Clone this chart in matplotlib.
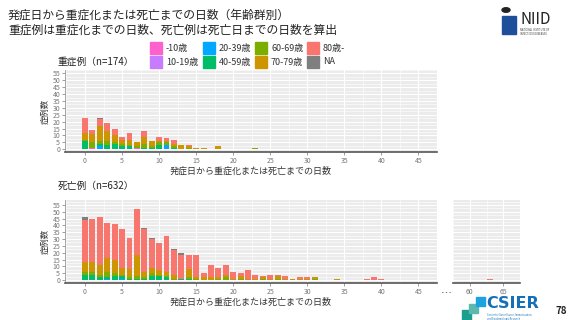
import numpy as np
import matplotlib.pyplot as plt
from matplotlib.patches import Rectangle

plt.rcParams['font.family'] = ['Noto Sans CJK JP', 'DejaVu Sans']

groups = ["-10歳", "10-19歳", "20-39歳", "40-59歳", "60-69歳", "70-79歳", "80歳-", "NA"]
colors = ["#FF61CC", "#C77CFF", "#00A9FF", "#00BE67", "#7CAE00", "#CD9600", "#F8766D", "#7F7F7F"]

# 重症例 (n=174)
days_s = [0, 1, 2, 3, 4, 5, 6, 7, 8, 9, 10, 11, 12, 13, 14, 15, 16, 18, 23]
s_u10 = [0, 1, 0, 0, 0, 0, 0, 1, 0, 0, 0, 0, 0, 0, 0, 0, 0, 0, 0]
s_10 = [0, 0, 0, 0, 0, 0, 0, 0, 0, 0, 0, 0, 0, 0, 0, 0, 0, 0, 0]
s_20 = [0, 0, 2, 0, 0, 0, 0, 0, 0, 0, 0, 3, 0, 0, 0, 0, 0, 0, 0]
s_40 = [6, 0, 2, 3, 4, 2, 2, 0, 1, 1, 3, 0, 1, 0, 0, 0, 0, 0, 0]
s_60 = [1, 4, 2, 3, 1, 2, 1, 1, 3, 1, 2, 2, 1, 0, 1, 0, 0, 0, 1]
s_70 = [5, 6, 11, 7, 5, 3, 4, 3, 5, 4, 1, 1, 2, 3, 1, 1, 1, 2, 0]
s_80 = [11, 3, 5, 6, 5, 2, 5, 0, 4, 0, 3, 2, 3, 0, 1, 0, 0, 0, 0]
s_na = [0, 0, 1, 0, 0, 0, 0, 0, 0, 0, 0, 0, 0, 0, 0, 0, 0, 0, 0]

# 死亡例 (n=632)
days_d = list(range(0, 32)) + [34, 38, 39, 40, 63]
d_u10 = [0] * 37
d_10 = [0] * 37
d_20 = [0, 0, 0, 1, 0, 1] + [0] * 31
d_40 = [4, 4, 2, 1, 3, 2, 1, 1, 1, 3, 3, 2, 0, 1, 1, 0] + [0] * 21
d_60 = [2, 2, 2, 4, 2, 1, 1, 2, 1, 2, 1, 1, 1, 0, 1, 1,
        0, 0, 1, 2, 0, 1, 0, 0, 1, 0, 1, 0, 0, 0, 0, 1, 0, 0, 0, 0, 0]
d_70 = [7, 7, 7, 10, 10, 5, 6, 15, 4, 4, 3, 3, 3, 0, 6, 1,
        2, 2, 1, 2, 1, 2, 1, 1, 1, 1, 2, 1, 1, 1, 1, 1, 1, 0, 0, 0, 0]
d_80 = [31, 32, 35, 26, 26, 28, 23, 34, 31, 21, 20, 26, 18, 17, 10, 16,
        3, 9, 7, 7, 5, 2, 6, 3, 1, 3, 1, 2, 0, 1, 1, 0, 0, 1, 2, 1, 1]
d_na = [2, 0, 0, 0, 0, 0, 0, 0, 1, 1, 0, 0, 1, 2] + [0] * 23

W, H = 569, 320
fig = plt.figure(figsize=(W / 100, H / 100), dpi=100)


def px_axes(x0, y0, x1, y1):
    return fig.add_axes([x0 / W, 1 - y1 / H, (x1 - x0) / W, (y1 - y0) / H])


def draw_panel(ax, days, series, xlim, ylim, xticks, yticks=True):
    ax.set_facecolor("#EBEBEB")
    bottom = np.zeros(len(days))
    for vals, c in zip(series, colors):
        vals = np.array(vals, dtype=float)
        ax.bar(days, vals, bottom=bottom, width=0.8, color=c, linewidth=0, zorder=3)
        bottom += vals
    ax.set_xlim(*xlim)
    ax.set_ylim(*ylim)
    ax.set_xticks(xticks)
    ax.set_xticks(np.arange(xticks[0] - 2.5, xticks[-1] + 3, 5), minor=True)
    ax.set_yticks(np.arange(0, 56, 5))
    ax.set_yticks(np.arange(2.5, 58, 5), minor=True)
    ax.grid(True, which="major", color="white", lw=0.8, zorder=0)
    ax.grid(True, which="minor", color="white", lw=0.4, zorder=0)
    for s in ["top", "right"]:
        ax.spines[s].set_visible(False)
    ax.spines["bottom"].set_color("#555555")
    ax.spines["bottom"].set_linewidth(1.2)
    ax.spines["left"].set_color("#999999")
    ax.spines["left"].set_linewidth(0.6)
    ax.tick_params(axis="both", which="major", labelsize=5, colors="#777777",
                   length=2, width=0.5, pad=1.5)
    ax.tick_params(axis="both", which="minor", length=0)
    if not yticks:
        ax.tick_params(axis="y", labelleft=False, length=0)
        ax.spines["left"].set_visible(False)


series_s = [s_u10, s_10, s_20, s_40, s_60, s_70, s_80, s_na]
series_d = [d_u10, d_10, d_20, d_40, d_60, d_70, d_80, d_na]

# top panel
ax1 = px_axes(65, 70, 437, 152)
draw_panel(ax1, days_s, series_s, (-2.7, 47.3), (-2, 57.5), np.arange(0, 46, 5))
ax1.set_ylabel("症例数", fontsize=6, color="#333333", labelpad=2)
ax1.set_xlabel("発症日から重症化または死亡までの日数", fontsize=6.5, color="#333333", labelpad=1)

# bottom main panel
d_main = [i for i, d in enumerate(days_d) if d < 50]
d_tail = [i for i, d in enumerate(days_d) if d >= 50]
ax2 = px_axes(65, 200, 437, 283)
draw_panel(ax2, [days_d[i] for i in d_main], [[s[i] for i in d_main] for s in series_d],
           (-2.7, 47.3), (-2.2, 58.6), np.arange(0, 46, 5))
ax2.set_ylabel("症例数", fontsize=6, color="#333333", labelpad=2)
ax2.set_xlabel("発症日から重症化または死亡までの日数", fontsize=6.5, color="#333333", labelpad=1)

# bottom tail panel (60-65 days)
ax3 = px_axes(453, 200, 520, 283)
draw_panel(ax3, [days_d[i] for i in d_tail], [[s[i] for i in d_tail] for s in series_d],
           (58.3, 67.3), (-2.2, 58.6), [60, 65], yticks=False)
fig.text(446 / W, 1 - 294 / H, "…", fontsize=8, ha="center", va="center", color="#333333")

# titles
fig.text(8 / W, 1 - 15 / H, "発症日から重症化または死亡までの日数（年齢群別）", fontsize=8.5,
         va="center", color="#222222")
fig.text(8 / W, 1 - 30 / H, "重症例は重症化までの日数、死亡例は死亡日までの日数を算出", fontsize=8.5,
         va="center", color="#222222")
fig.text(58 / W, 1 - 62 / H, "重症例（n=174）", fontsize=7, va="center", color="#222222")
fig.text(58 / W, 1 - 186 / H, "死亡例（n=632）", fontsize=7, va="center", color="#222222")

# legend
col_x = [150, 203, 255, 307]
row_y = [48, 62]
for k, (g, c) in enumerate(zip(groups, colors)):
    col, row = k // 2, k % 2
    x, y = col_x[col], row_y[row]
    fig.patches.append(Rectangle((x / W, 1 - (y + 6) / H), 12 / W, 12 / H,
                                 transform=fig.transFigure, color=c))
    fig.text((x + 16) / W, 1 - y / H, g, fontsize=6.5, va="center", color="#333333")

# NIID logo
fig.patches.append(plt.Circle((506 / W, 1 - 10 / H), 4 / W, transform=fig.transFigure, color="#222222"))
fig.patches.append(Rectangle((502 / W, 1 - 34 / H), 14 / W, 18 / H, transform=fig.transFigure,
                             color="#1F4E9A"))
fig.text(520 / W, 1 - 20 / H, "NIID", fontsize=11, va="center", color="#222222")
fig.text(520 / W, 1 - 32 / H, "NATIONAL INSTITUTE OF\nINFECTIOUS DISEASES", fontsize=1.8,
         va="center", color="#333333")

# CSIER logo
fig.patches.append(Rectangle((462 / W, 1 - 320 / H), 9 / W, 10 / H, transform=fig.transFigure, color="#1A9E8F"))
fig.patches.append(Rectangle((469 / W, 1 - 313 / H), 9 / W, 9 / H, transform=fig.transFigure, color="#5DB8B0"))
fig.patches.append(Rectangle((476 / W, 1 - 306 / H), 9 / W, 9 / H, transform=fig.transFigure, color="#1AA3E0"))
fig.text(486 / W, 1 - 303 / H, "CSIER", fontsize=11.5, fontweight="bold", va="center",
         color="#1470B8", family="DejaVu Sans")
fig.text(487 / W, 1 - 316.5 / H, "Center for Surveillance, Immunization,\nand Epidemiologic Research",
         fontsize=1.8, va="center", color="#1470B8")
fig.text(556 / W, 1 - 311 / H, "78", fontsize=7, fontweight="bold", va="center", color="#222222")

fig.savefig("out.png", dpi=100)
